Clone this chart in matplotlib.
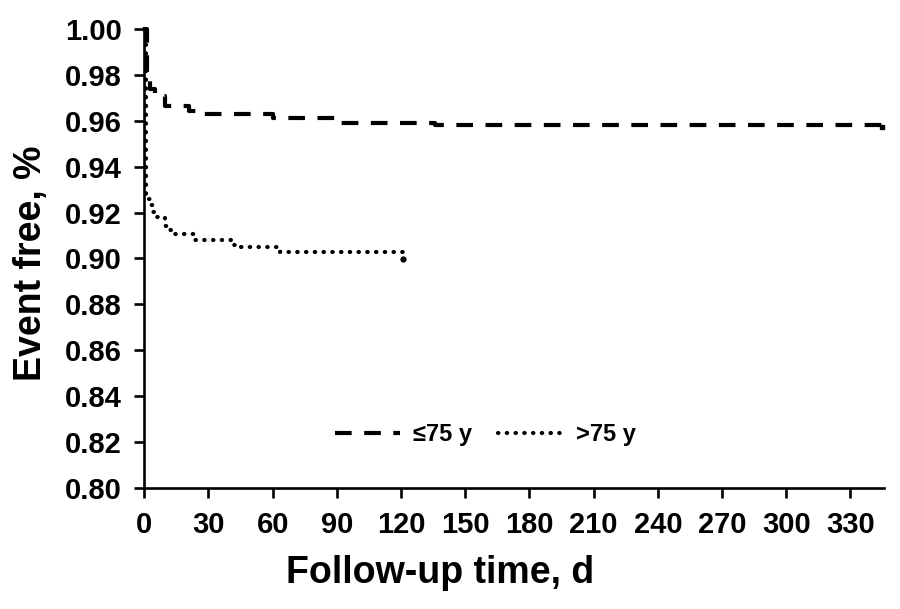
import matplotlib
matplotlib.use("Agg")
import matplotlib.pyplot as plt

# Data
young_t = [0, 1.3, 2.7, 5, 9.7, 21, 28, 60, 89, 136, 344.6]
young_v = [1.0, 0.980, 0.974, 0.971, 0.9666, 0.9644, 0.9631, 0.9614, 0.9592, 0.9583, 0.9574]

old_t = [0, 1, 3, 4, 5.5, 9.7, 12, 14, 23.7, 42, 44.7, 63.4, 121]
old_v = [1.0, 0.926, 0.9234, 0.9203, 0.9181, 0.9142, 0.9124, 0.9107, 0.9081, 0.9059, 0.9051, 0.9028, 0.8997]

series_labels = ["\u226475 y", ">75 y"]
x_ticks = list(range(0, 331, 30))
y_ticks = [0.80, 0.82, 0.84, 0.86, 0.88, 0.90, 0.92, 0.94, 0.96, 0.98, 1.00]

plt.rcParams['font.family'] = ['Liberation Sans', 'DejaVu Sans']
plt.rcParams['font.weight'] = 'bold'

fig = plt.figure(figsize=(9, 6.09), dpi=100)
ax_left, ax_right, ax_bottom, ax_top = 0.1603, 0.982, 0.1995, 0.9516
ax = fig.add_axes([ax_left, ax_bottom, ax_right - ax_left, ax_top - ax_bottom])

ax.step(young_t, young_v, where='post', color='black', lw=3.0,
        linestyle=(0, (4, 3)), dash_capstyle='butt', label=series_labels[0], clip_on=False)
ax.step(old_t, old_v, where='post', color='black', lw=3.0,
        linestyle=(0, (0.1, 2.0)), dash_capstyle='round', label=series_labels[1], clip_on=False)
# end-of-curve marks
ax.plot([old_t[-1]], [old_v[-1]], 'o', ms=3.5, color='black', clip_on=False)
ax.plot([young_t[-1]], [young_v[-1]], 's', ms=3.0, color='black', clip_on=False)

ax.set_xlim(0, 345.6)
ax.set_ylim(0.80, 1.00)
ax.set_xticks(x_ticks)
ax.set_yticks(y_ticks)
ax.set_yticklabels([f"{v:.2f}" for v in y_ticks])
ax.set_xticklabels([str(v) for v in x_ticks])

for s in ['top', 'right']:
    ax.spines[s].set_visible(False)
for s in ['left', 'bottom']:
    ax.spines[s].set_linewidth(1.9)

ax.tick_params(axis='both', direction='out', length=7, width=1.9, labelsize=21)
ax.tick_params(axis='y', pad=9)
ax.tick_params(axis='x', pad=10)
for lab in ax.get_xticklabels() + ax.get_yticklabels():
    lab.set_fontweight('bold')

ax.set_xlabel("Follow-up time, d", fontsize=27, fontweight='bold')
ax.set_ylabel("Event free, %", fontsize=27, fontweight='bold')
ax.xaxis.set_label_coords(0.40, -0.148)
ax.yaxis.set_label_coords(-0.129, 0.49)

leg = ax.legend(loc='center', bbox_to_anchor=(0.461, 0.115), ncol=2, frameon=False,
                prop={'size': 17, 'weight': 'bold'}, handlelength=2.75,
                handletextpad=0.55, columnspacing=1.1)

fig.savefig("out.png", dpi=100)
